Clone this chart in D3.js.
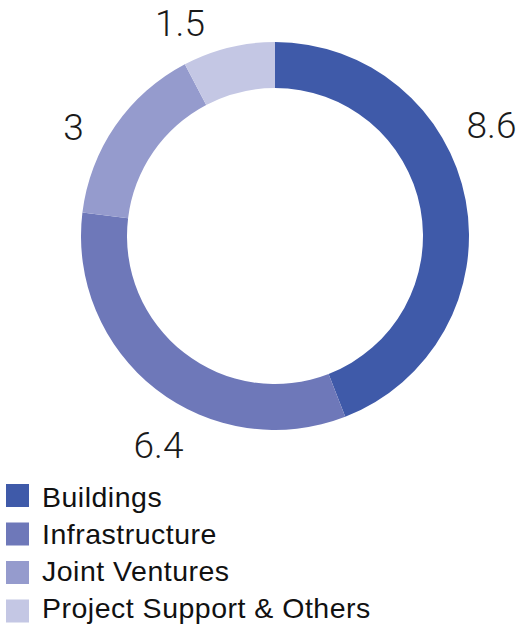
<!DOCTYPE html>
<html>
<head>
<meta charset="utf-8">
<script src="https://cdn.jsdelivr.net/npm/d3@7"></script>
<style>
  html, body { margin: 0; padding: 0; background: #fff; }
  svg { display: block; }
</style>
</head>
<body>
<svg id="chart" width="519" height="624"></svg>
<script>
// Segment data
const categories = ["Buildings", "Infrastructure", "Joint Ventures", "Project Support & Others"];
const values = [8.6, 6.4, 3, 1.5];
const valueLabels = ["8.6", "6.4", "3", "1.5"];

// Presentation
const colors = ["#3f5aa9", "#6e78b9", "#959bcd", "#c4c7e4"];
const donut = { cx: 275, cy: 236, outer: 194, inner: 148 };
// text placement of each value label (centre x, baseline y)
const labelSpots = [[491.5, 138], [158.5, 458], [73.5, 140], [180, 36]];
const legend = { x: 6, y: 484, box: 23, boxStep: 38.5, textX: 42, textY: 507, textStep: 37 };

const svg = d3.select("#chart");
const data = categories.map((c, i) => ({ name: c, value: values[i], label: valueLabels[i], color: colors[i], spot: labelSpots[i] }));

const pie = d3.pie().value(d => d.value).sort(null).startAngle(0).endAngle(2 * Math.PI);
const arc = d3.arc().innerRadius(donut.inner).outerRadius(donut.outer);

const g = svg.append("g").attr("transform", `translate(${donut.cx},${donut.cy})`);
g.selectAll("path")
  .data(pie(data))
  .join("path")
  .attr("d", arc)
  .attr("fill", d => d.data.color);

svg.append("g")
  .selectAll("text")
  .data(data)
  .join("text")
  .attr("x", d => d.spot[0])
  .attr("y", d => d.spot[1])
  .attr("text-anchor", "middle")
  .attr("font-family", "Roboto, 'Helvetica Neue', sans-serif")
  .attr("font-weight", 300)
  .attr("font-size", 37)
  .attr("fill", "#1a1a1a")
  .text(d => d.label);

const lg = svg.append("g");
lg.selectAll("rect")
  .data(data)
  .join("rect")
  .attr("x", legend.x)
  .attr("y", (d, i) => legend.y + i * legend.boxStep)
  .attr("width", legend.box)
  .attr("height", legend.box)
  .attr("fill", d => d.color);
lg.selectAll("text")
  .data(data)
  .join("text")
  .attr("x", legend.textX)
  .attr("y", (d, i) => legend.textY + i * legend.textStep)
  .attr("font-family", "'Liberation Sans', Arial, sans-serif")
  .attr("font-size", 28.5)
  .attr("letter-spacing", 0.5)
  .attr("fill", "#111")
  .text(d => d.name);
</script>
</body>
</html>
